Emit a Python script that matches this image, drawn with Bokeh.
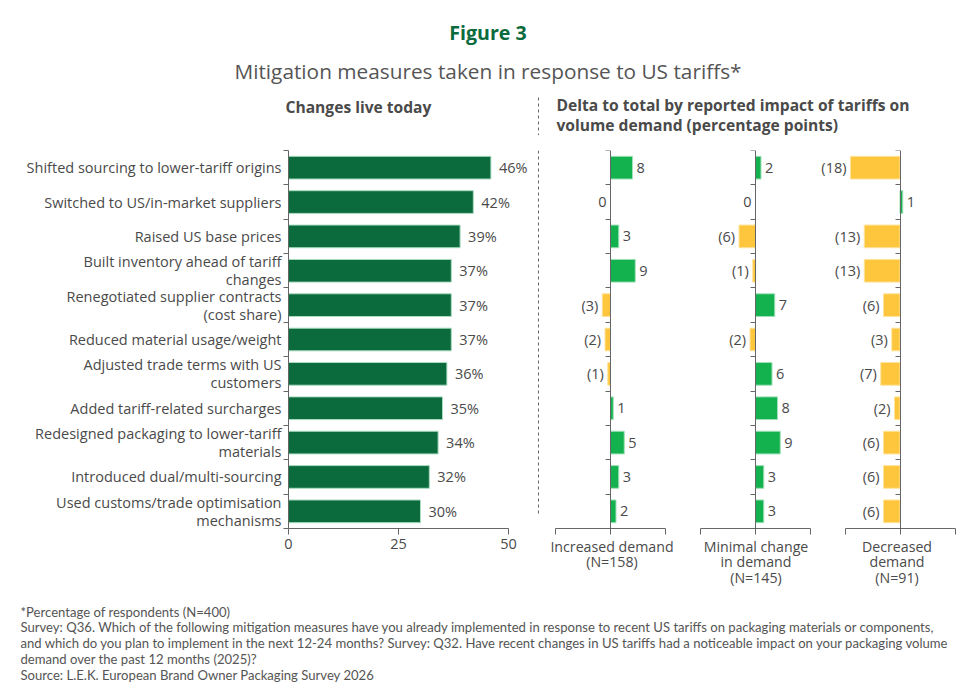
from bokeh.plotting import figure
from bokeh.layouts import column, row
from bokeh.models import Range1d, FixedTicker, ColumnDataSource
from bokeh.core.properties import value
from bokeh.embed import file_html
from bokeh.resources import INLINE

# ---- data -------------------------------------------------------------
measures = [
    "Shifted sourcing to lower-tariff origins",
    "Switched to US/in-market suppliers",
    "Raised US base prices",
    "Built inventory ahead of tariff\nchanges",
    "Renegotiated supplier contracts\n(cost share)",
    "Reduced material usage/weight",
    "Adjusted trade terms with US\ncustomers",
    "Added tariff-related surcharges",
    "Redesigned packaging to lower-tariff\nmaterials",
    "Introduced dual/multi-sourcing",
    "Used customs/trade optimisation\nmechanisms",
]
live_today = [46, 42, 39, 37, 37, 37, 36, 35, 34, 32, 30]
delta_increased = [8, 0, 3, 9, -3, -2, -1, 1, 5, 3, 2]
delta_minimal = [2, 0, -6, -1, 7, -2, 6, 8, 9, 3, 3]
delta_decreased = [-18, 1, -13, -13, -6, -3, -7, -2, -6, -6, -6]
panel_titles = [
    "Increased demand\n(N=158)",
    "Minimal change\nin demand\n(N=145)",
    "Decreased\ndemand\n(N=91)",
]
left_ticks = [0, 25, 50]

footnotes = [
    "*Percentage of respondents (N=400)",
    "Survey: Q36. Which of the following mitigation measures have you already implemented in response to recent US tariffs on packaging materials or components,",
    "and which do you plan to implement in the next 12-24 months? Survey: Q32. Have recent changes in US tariffs had a noticeable impact on your packaging volume",
    "demand over the past 12 months (2025)?",
    "Source: L.E.K. European Brand Owner Packaging Survey 2026",
]

# ---- style ------------------------------------------------------------
FONT = "Open Sans"
NOTE_FONT = "Lato"
LABEL_SIZE = "14.5px"
DARK_GREEN = "#0b6b3c"
BRIGHT_GREEN = "#14b24f"
YELLOW = "#fec63d"
TEXT = "#4a4a4a"
AXIS = "#666666"

idx = list(range(len(measures)))
boundaries = [i - 0.5 for i in range(len(measures) + 1)]
ROW_TOP = 135
ROW_H = 465
FRAME_TOP = 15
FRAME_H = 378


def bare(p):
    p.grid.visible = False
    p.outline_line_color = None
    p.background_fill_color = None
    p.border_fill_color = None
    return p


# ---- header -----------------------------------------------------------
hdr = bare(figure(width=975, height=ROW_TOP, x_range=Range1d(0, 975), y_range=Range1d(ROW_TOP, 0),
                  x_axis_type=None, y_axis_type=None, min_border=0,
                  output_backend="svg", toolbar_location=None))
hdr.text(x=[487.5], y=[32], text=["Figure 3"], text_align="center", text_baseline="middle",
         text_font=value(FONT), text_font_size="19.6px", text_font_style="bold", text_color=DARK_GREEN)
hdr.text(x=[487.5], y=[70], text=["Mitigation measures taken in response to US tariffs*"],
         text_align="center", text_baseline="middle", text_font=value(FONT),
         text_font_size="20.8px", text_color="#555555")
hdr.text(x=[285], y=[106], text=["Changes live today"], text_align="left", text_baseline="middle",
         text_font=value(FONT), text_font_size="15.6px", text_font_style="bold", text_color=TEXT)
hdr.text(x=[556, 556], y=[104, 124],
         text=["Delta to total by reported impact of tariffs on", "volume demand (percentage points)"],
         text_align="left", text_baseline="middle", text_font=value(FONT),
         text_font_size="15.6px", text_font_style="bold", text_color=TEXT)
hdr.segment(x0=[538], y0=[97], x1=[538], y1=[ROW_TOP], line_color=AXIS, line_width=1, line_dash="3 3")

# ---- left chart: changes live today ------------------------------------
PX_LEFT = 4.4  # pixels per percentage point
left = bare(figure(width=536, height=ROW_H, x_range=Range1d(0, 248 / PX_LEFT),
                   y_range=Range1d(10.5, -0.5),
                   min_border_left=288, min_border_right=0, min_border_top=FRAME_TOP,
                   min_border_bottom=ROW_H - FRAME_TOP - FRAME_H,
                   output_backend="svg", toolbar_location=None))
src = ColumnDataSource(dict(y=idx, v=live_today, lab=[f"{v}%" for v in live_today]))
left.hbar(y="y", left=0, right="v", height=0.66, source=src, fill_color=DARK_GREEN,
          line_color="#a9dcc0", line_width=1)
left.text(x="v", y="y", text="lab", source=src, x_offset=8, text_align="left",
          text_baseline="middle", text_font=value(FONT), text_font_size=LABEL_SIZE, text_color=TEXT)

ya = left.yaxis[0]
ya.ticker = FixedTicker(ticks=idx, minor_ticks=boundaries)
ya.major_label_overrides = {i: m for i, m in zip(idx, measures)}
ya.major_tick_out = 0
ya.major_tick_in = 0
ya.minor_tick_out = 5
ya.minor_tick_in = 0
ya.minor_tick_line_color = AXIS
ya.axis_line_color = AXIS
ya.major_label_standoff = 2
ya.major_label_text_font = FONT
ya.major_label_text_font_size = LABEL_SIZE
ya.major_label_text_color = TEXT
ya.major_label_text_line_height = 0.96

xa = left.xaxis[0]
xa.ticker = FixedTicker(ticks=left_ticks)
xa.bounds = (0, 50)
xa.axis_line_color = AXIS
xa.major_tick_line_color = AXIS
xa.major_tick_out = 6
xa.major_tick_in = 0
xa.minor_tick_line_color = None
xa.major_label_standoff = 4
xa.major_label_text_font = FONT
xa.major_label_text_font_size = LABEL_SIZE
xa.major_label_text_color = TEXT

# ---- separator --------------------------------------------------------
sep = bare(figure(width=4, height=ROW_H, x_range=Range1d(0, 4),
                  y_range=Range1d(ROW_TOP + ROW_H, ROW_TOP),
                  x_axis_type=None, y_axis_type=None, min_border=0,
                  output_backend="svg", toolbar_location=None))
sep.segment(x0=[2], y0=[ROW_TOP], x1=[2], y1=[585], line_color=AXIS, line_width=1, line_dash="3 3")

# ---- delta panels -----------------------------------------------------
PX_DELTA = 2.75  # pixels per percentage point


def delta_panel(values, title, fig_x0, fig_x1, frame_x0, zero_x):
    lo = -(zero_x - frame_x0) / PX_DELTA
    hi = (fig_x1 - zero_x) / PX_DELTA
    p = bare(figure(width=fig_x1 - fig_x0, height=ROW_H, x_range=Range1d(lo, hi),
                    y_range=Range1d(10.5, -0.5),
                    min_border_left=frame_x0 - fig_x0, min_border_right=0, min_border_top=FRAME_TOP,
                    min_border_bottom=ROW_H - FRAME_TOP - FRAME_H,
                    output_backend="svg", toolbar_location=None))
    bars = [(i, v) for i, v in zip(idx, values) if v != 0]
    bsrc = ColumnDataSource(dict(
        y=[b[0] for b in bars], v=[b[1] for b in bars],
        fill=[BRIGHT_GREEN if b[1] > 0 else YELLOW for b in bars],
        edge=["#9fe0b8" if b[1] > 0 else "#ffe39b" for b in bars],
    ))
    p.hbar(y="y", left=0, right="v", height=0.66, source=bsrc, fill_color="fill",
           line_color="edge", line_width=1)
    lsrc = ColumnDataSource(dict(
        y=idx, v=values,
        lab=[str(v) if v >= 0 else f"({-v})" for v in values],
        align=["left" if v > 0 else "right" for v in values],
        off=[4 if v > 0 else -4 for v in values],
    ))
    p.text(x="v", y="y", text="lab", source=lsrc, x_offset="off", text_align="align",
           text_baseline="middle", text_font=value(FONT), text_font_size=LABEL_SIZE,
           text_color=TEXT)

    ya = p.yaxis[0]
    ya.fixed_location = 0
    ya.ticker = FixedTicker(ticks=[], minor_ticks=boundaries)
    ya.bounds = (-0.5, 10.5)
    ya.minor_tick_out = 5
    ya.minor_tick_in = 0
    ya.minor_tick_line_color = AXIS
    ya.axis_line_color = AXIS

    xa = p.xaxis[0]
    xa.ticker = FixedTicker(ticks=[-20, 0, 20])
    xa.bounds = (-20, 20)
    xa.major_label_overrides = {-20: "", 0: "", 20: ""}
    xa.axis_line_color = AXIS
    xa.major_tick_line_color = AXIS
    xa.major_tick_out = 6
    xa.major_tick_in = 0
    xa.minor_tick_line_color = None
    xa.major_label_standoff = 0
    xa.axis_label = title
    xa.axis_label_standoff = 2
    xa.axis_label_text_font = FONT
    xa.axis_label_text_font_size = "14.2px"
    xa.axis_label_text_font_style = "normal"
    xa.axis_label_text_color = TEXT
    xa.axis_label_text_line_height = 0.84
    return p


p1 = delta_panel(delta_increased, panel_titles[0], 540, 683, 540, 610)
p2 = delta_panel(delta_minimal, panel_titles[1], 683, 818, 693, 755)
p3 = delta_panel(delta_decreased, panel_titles[2], 818, 975, 818, 899.5)

# ---- footnotes --------------------------------------------------------
ftr = bare(figure(width=975, height=96, x_range=Range1d(0, 975), y_range=Range1d(696, 600),
                  x_axis_type=None, y_axis_type=None, min_border=0,
                  output_backend="svg", toolbar_location=None))
ftr.text(x=[20] * len(footnotes), y=[611 + 15.8 * i for i in range(len(footnotes))], text=footnotes,
         text_align="left", text_baseline="middle", text_font=value(NOTE_FONT),
         text_font_size="13.1px", text_color="#555555")

page = column(hdr, row(left, sep, p1, p2, p3, spacing=0), ftr, spacing=0)

with open("out.html", "w") as f:
    f.write(file_html(page, INLINE))
